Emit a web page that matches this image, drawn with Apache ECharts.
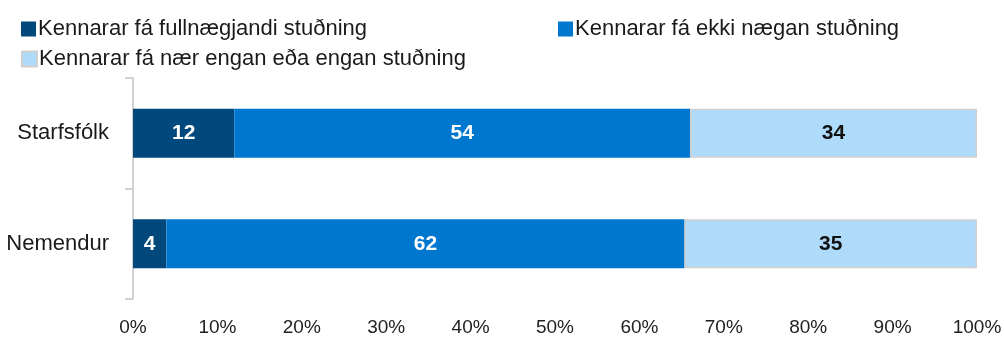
<!DOCTYPE html>
<html>
<head>
<meta charset="utf-8">
<script src="https://cdn.jsdelivr.net/npm/echarts@6/dist/echarts.min.js"></script>
<style>
  html, body { margin: 0; padding: 0; background: #fff; }
  #chart { width: 1004px; height: 339px; }
</style>
</head>
<body>
<div id="chart"></div>
<script>
// Hópar (y-ás) og svörun í hverjum flokki
const categories = ['Starfsfólk', 'Nemendur'];
const seriesNames = [
  'Kennarar fá fullnægjandi stuðning',
  'Kennarar fá ekki nægan stuðning',
  'Kennarar fá nær engan eða engan stuðning'
];
const fullnaegjandi = [12, 4];
const ekkiNaegan = [54, 62];
const naerEngan = [34, 35];
const xTicks = [0, 10, 20, 30, 40, 50, 60, 70, 80, 90, 100];

const FONT = "'Liberation Sans', Arial, sans-serif";
const raw = [fullnaegjandi, ekkiNaegan, naerEngan];
// Hver stika er hlutfall af samtölu hópsins (100% staflað)
const totals = categories.map((_, i) => raw.reduce((s, arr) => s + arr[i], 0));
const shares = raw.map(arr => arr.map((v, i) => ({ value: v / totals[i] * 100, raw: v })));

const colors = ['#01497C', '#0077CF', '#AFDBFB'];
const labelColors = ['#ffffff', '#ffffff', '#111111'];

const chart = echarts.init(document.getElementById('chart'), null, { renderer: 'canvas' });

const legendBase = {
  icon: 'rect',
  itemWidth: 15,
  itemHeight: 15,
  itemGap: 0,
  textStyle: { fontFamily: FONT, fontSize: 22, color: '#1a1a1a', padding: [0, 0, 0, -3] },
  selectedMode: false
};

chart.setOption({
  animation: false,
  backgroundColor: '#ffffff',
  legend: [
    Object.assign({}, legendBase, { left: 16, top: 13, data: [seriesNames[0]] }),
    Object.assign({}, legendBase, { left: 553, top: 13, data: [seriesNames[1]] }),
    Object.assign({}, legendBase, { left: 16, top: 43, data: [seriesNames[2]] })
  ],
  grid: { left: 133, right: 27, top: 78, bottom: 40, containLabel: false, outerBoundsMode: 'none' },
  xAxis: {
    type: 'value',
    min: 0,
    max: 100,
    interval: 10,
    axisLine: { show: false },
    axisTick: { show: false },
    splitLine: { show: false },
    axisLabel: {
      fontFamily: FONT,
      fontSize: 19,
      color: '#222',
      margin: 19,
      formatter: v => xTicks.includes(v) ? v + '%' : ''
    }
  },
  yAxis: {
    type: 'category',
    data: categories,
    inverse: true,
    axisLine: { show: true, lineStyle: { color: '#c4c4c4', width: 1.5 } },
    axisTick: { show: true, length: 8, lineStyle: { color: '#c4c4c4', width: 1.5 } },
    axisLabel: { fontFamily: FONT, fontSize: 22, color: '#1a1a1a', margin: 24 }
  },
  series: shares.map((data, k) => ({
    name: seriesNames[k],
    type: 'bar',
    stack: 'total',
    barWidth: 49,
    data: data,
    itemStyle: k === 2
      ? { color: colors[k], borderColor: '#cfcfcf', borderWidth: 1.5 }
      : { color: colors[k] },
    label: {
      show: true,
      position: 'inside',
      fontFamily: FONT,
      fontSize: 21,
      fontWeight: 'bold',
      color: labelColors[k],
      formatter: p => String(p.data.raw)
    }
  }))
});
</script>
</body>
</html>
